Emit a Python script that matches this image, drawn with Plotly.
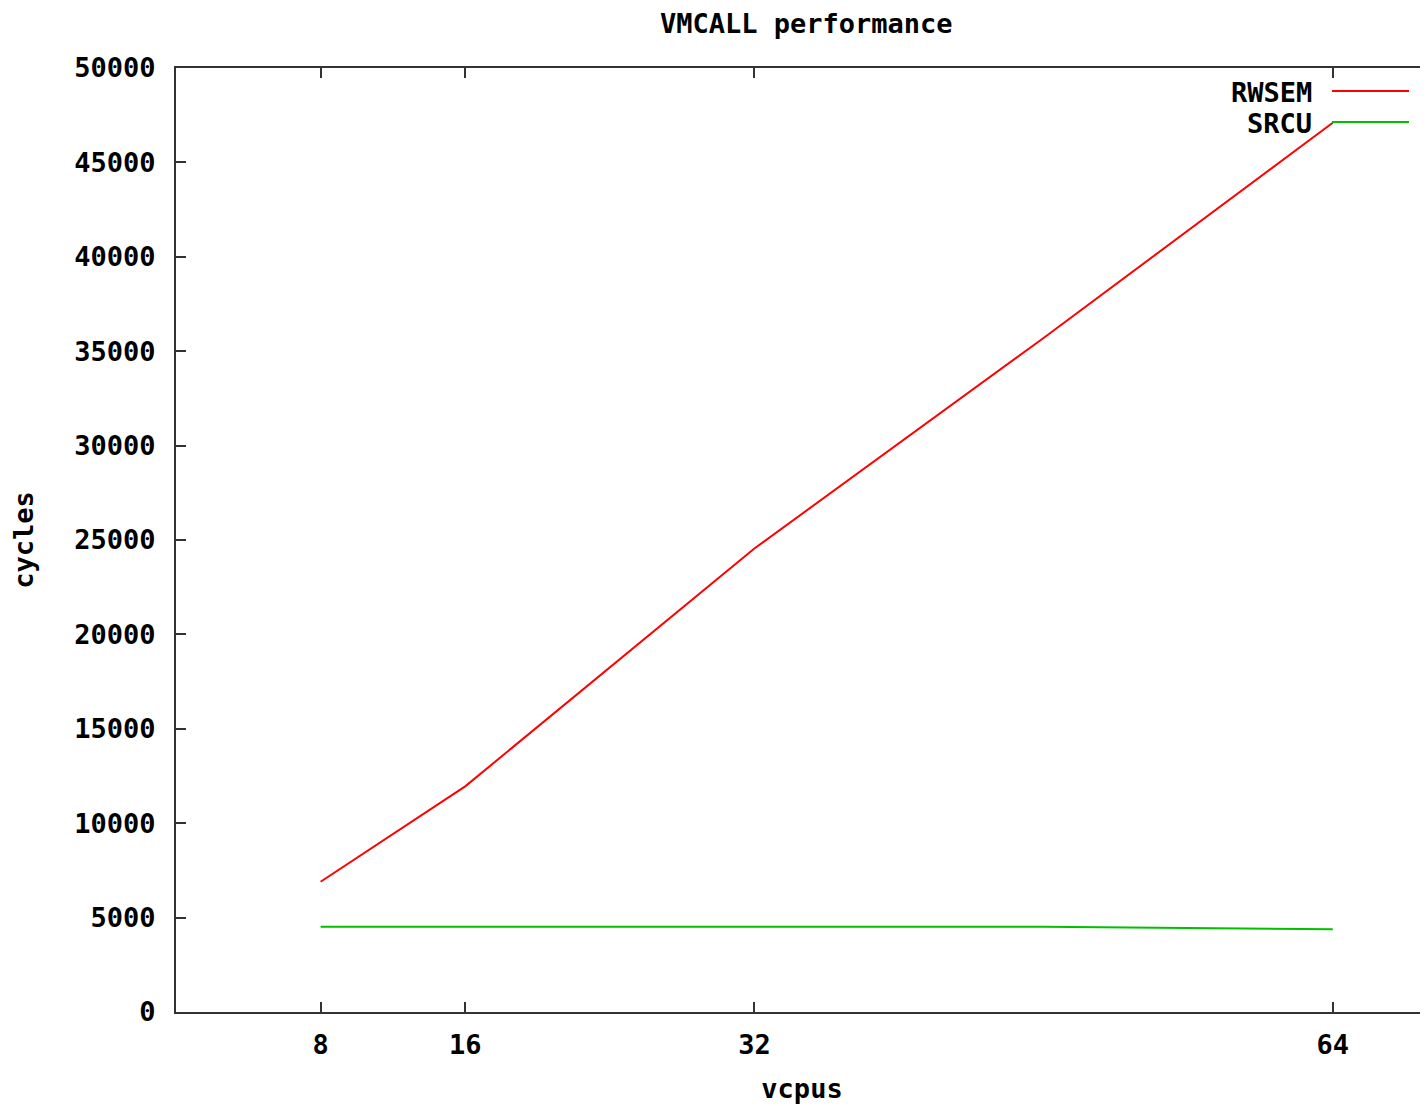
import plotly.graph_objects as go

vcpus = [8, 16, 32, 48, 64]
rwsem = [6900, 11950, 24550, 35700, 47100]
srcu = [4520, 4520, 4520, 4515, 4385]
series_names = ["RWSEM", "SRCU"]
series_colors = ["#ff0000", "#00c000"]
x_ticks = [8, 16, 32, 64]
y_ticks = list(range(0, 50001, 5000))

# page body has an 8px offset; figure is sized to fill the window
OFF = 8
W, H = 1428 - OFF, 1106 - OFF
L, R, T, B = 176 - OFF, 0, 68 - OFF, 94
FONT = "DejaVu Sans Mono"
FS = 27
AX = "#333333"

fig = go.Figure()
for name, ys, col in zip(series_names, [rwsem, srcu], series_colors):
    fig.add_trace(go.Scatter(x=vcpus, y=ys, mode="lines", name=name,
                             line=dict(color=col, width=2), showlegend=False))

pw, ph = W - L - R, H - T - B
def px(xp):
    return (xp - OFF - L) / pw
def py(yp):
    return (H - B - (yp - OFF)) / ph

legend_rows = [91, 122]
for name, col, yy in zip(series_names, series_colors, legend_rows):
    fig.add_annotation(x=px(1314), y=py(yy + 1), xref="paper", yref="paper",
                       text=name, showarrow=False, xanchor="right", yanchor="middle",
                       font=dict(family=FONT, size=FS, color="black", weight="bold"))
    fig.add_shape(type="line", xref="paper", yref="paper",
                  x0=px(1332), x1=px(1409), y0=py(yy), y1=py(yy),
                  line=dict(color=col, width=2))

fig.add_annotation(x=((658 + 954) / 2 - OFF - L) / pw, y=py(23), xref="paper", yref="paper",
                   text="VMCALL performance", showarrow=False, xanchor="center", yanchor="middle",
                   font=dict(family=FONT, size=FS, color="black", weight="bold"))

fig.update_layout(
    width=W, height=H,
    margin=dict(l=L, r=R, t=T, b=B),
    paper_bgcolor="white", plot_bgcolor="white",
    font=dict(family=FONT, size=FS, color="black", weight="bold"),
    xaxis=dict(range=[0, (1428 - 175.6) / 18.08], tickvals=x_ticks, ticktext=[str(v) for v in x_ticks],
               showgrid=False, zeroline=False, showline=True, linecolor=AX, linewidth=2,
               mirror="allticks", ticks="inside", ticklen=10, tickwidth=2, tickcolor=AX,
               ticklabelstandoff=8,
               title=dict(text="vcpus", standoff=20, font=dict(size=FS, weight="bold"))),
    yaxis=dict(range=[0, 50000], tickvals=y_ticks, ticktext=[str(v) for v in y_ticks],
               showgrid=False, zeroline=False, showline=True, linecolor=AX, linewidth=2,
               mirror=False, ticks="inside", ticklen=10, tickwidth=2, tickcolor=AX,
               ticklabelstandoff=13,
               title=dict(text="cycles", standoff=34, font=dict(size=FS, weight="bold"))),
)

fig.write_html("out.html")
